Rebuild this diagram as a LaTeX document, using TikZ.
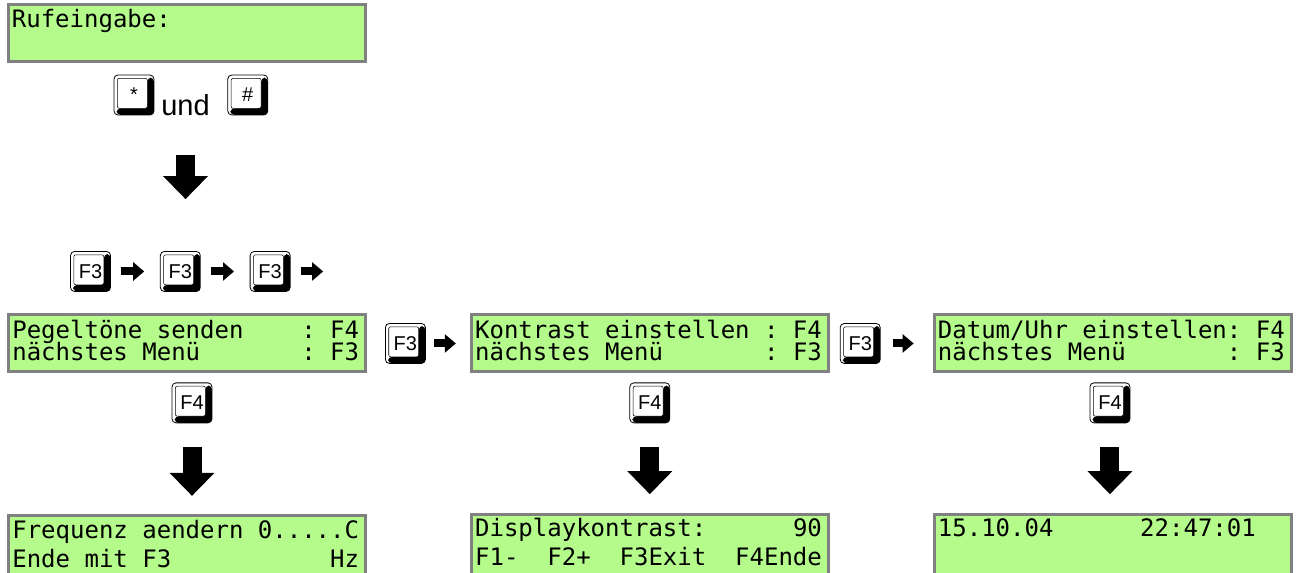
\documentclass[tikz,border=0pt]{standalone}
\usepackage{fontspec}
\setsansfont{Liberation Sans}
\setmonofont{DejaVu Sans Mono}
\usetikzlibrary{arrows.meta,positioning}
\definecolor{lcdgreen}{RGB}{180,251,140}
\definecolor{lcdframe}{RGB}{128,128,128}
\tikzset{every picture/.style={/utils/exec={\sffamily}}}
\newcommand\lcdfont{\ttfamily\fontsize{18pt}{17pt}\selectfont\frenchspacing\lineskiplimit=-100pt}
% fixed cell width for every blank, first line strut
\newcommand\lcdtopstrut{\spaceskip=0.602em\relax\xspaceskip=0.602em\relax\rule{0pt}{13.8pt}}
\newcommand\lcdbotstrut{\rule[-4.6pt]{0pt}{4.6pt}}

\begin{document}
\begin{tikzpicture}[node distance=1cm]
  \tikzstyle{lcd} = [rectangle, draw=lcdframe, line width=2.25pt, fill=lcdgreen,
    minimum width=267.75pt, minimum height=42.75pt, inner sep=0pt, text width=262pt,
    align=flush left, font=\lcdfont, execute at begin node=\lcdtopstrut, execute at end node=\lcdbotstrut]
  \tikzstyle{lcdtall} = [lcd, minimum height=46.35pt, font={\lcdfont\baselineskip=21.75pt}]
  \tikzstyle{key} = [rectangle, draw=black, line width=0.6pt, rounded corners=3pt, fill=white,
    minimum width=30pt, minimum height=30pt, inner sep=0pt, font=\sffamily\fontsize{15}{17}\selectfont,
    path picture={
      \fill[black] ([yshift=-2pt]path picture bounding box.north east) -- (path picture bounding box.south east)
        -- ([xshift=2pt]path picture bounding box.south west) -- ([xshift=2pt,yshift=5pt]path picture bounding box.south west)
        -- ([xshift=-5pt,yshift=5pt]path picture bounding box.south east) -- ([xshift=-5pt,yshift=-2pt]path picture bounding box.north east) -- cycle;
      \draw[line width=0.4pt, rounded corners=1.5pt, fill=white] ([xshift=2.5pt,yshift=-2.5pt]path picture bounding box.north west)
        rectangle ([xshift=-5pt,yshift=5pt]path picture bounding box.south east);
    }]
  \tikzstyle{word} = [inner sep=0pt, font=\sffamily\fontsize{21.75}{24}\selectfont]
  \tikzstyle{bigarrow} = [line width=14.25pt, -{Triangle[width=33.75pt,length=17.25pt,line width=0pt]}]
  \tikzstyle{smallarrow} = [line width=6pt, -{Triangle[width=14pt,length=8.25pt,line width=0pt]}]

  \useasboundingbox (0,0) rectangle (973.5pt,-429.75pt);

  % call input and the two keys
  \node (lcdruf) [lcd] at (139.9pt,-24.75pt) {Rufeingabe:\\~};
  \node (keystar) [key] at (100.5pt,-71.25pt) {*};
  \node (und) [word, right=5pt of keystar.south east, anchor=base west] {und};
  \node (keyhash) [key, right=54.75pt of keystar] {\#};

  % F3 three times
  \node (keyf3a) [key] at (67.9pt,-203.6pt) {F3};
  \node (keyf3b) [key, right=36.75pt of keyf3a] {F3};
  \node (keyf3c) [key, right=36.75pt of keyf3b] {F3};
  \coordinate [right=24.4pt of keyf3c.east] (f3end);

  % menu row
  \node (lcdpegel) [lcd] at (140.25pt,-257.6pt) {Pegeltöne senden~~~~: F4\\nächstes Menü~~~~~~~: F3};
  \node (keyf3d) [key, right=13.5pt of lcdpegel] {F3};
  \node (lcdkontrast) [lcd, right=33pt of keyf3d] {Kontrast einstellen : F4\\nächstes Menü~~~~~~~: F3};
  \node (keyf3e) [key, right=7.5pt of lcdkontrast] {F3};
  \node (lcddatum) [lcd, right=39pt of keyf3e] {Datum/Uhr einstellen: F4\\nächstes Menü~~~~~~~: F3};

  % F4 keys and the screens behind them
  \node (keyf4a) [key, below=6.75pt of lcdpegel, xshift=3.75pt] {F4};
  \node (keyf4b) [key, below=6.75pt of lcdkontrast] {F4};
  \node (keyf4c) [key, below=6.75pt of lcddatum, xshift=-2pt] {F4};
  \node (lcdfreq) [lcdtall, below=105.75pt of lcdpegel] {Frequenz aendern 0.....C\\Ende mit F3~~~~~~~~~~~Hz};
  \node (lcdkontrastwert) [lcdtall, below=104.5pt of lcdkontrast] {Displaykontrast:~~~~~~90\\F1-~~F2+~~F3Exit~~F4Ende};
  \node (lcduhr) [lcdtall, below=104.5pt of lcddatum] {15.10.04~~~~~~22:47:01\\~};

  \draw [bigarrow, shorten <=29.25pt, shorten >=39pt] (und.south) -- (und.south |- keyf3b.north);
  \draw [smallarrow, shorten <=7.5pt, shorten >=11.8pt] (keyf3a) -- (keyf3b);
  \draw [smallarrow, shorten <=7.5pt, shorten >=11.8pt] (keyf3b) -- (keyf3c);
  \draw [smallarrow, shorten <=7.5pt] (keyf3c) -- (f3end);
  \draw [smallarrow, shorten <=6pt, shorten >=10.5pt] (keyf3d) -- (lcdkontrast);
  \draw [smallarrow, shorten <=9pt, shorten >=14.25pt] (keyf3e) -- (lcddatum);
  % down into the sub menus
  \draw [bigarrow, shorten <=18pt, shorten >=14pt] (keyf4a.south) -- (keyf4a.south |- lcdfreq.north);
  \draw [bigarrow, shorten <=18pt, shorten >=14pt] (keyf4b.south) -- (keyf4b.south |- lcdkontrastwert.north);
  \draw [bigarrow, shorten <=18pt, shorten >=14pt] (keyf4c.south) -- (keyf4c.south |- lcduhr.north);
\end{tikzpicture}
\end{document}
